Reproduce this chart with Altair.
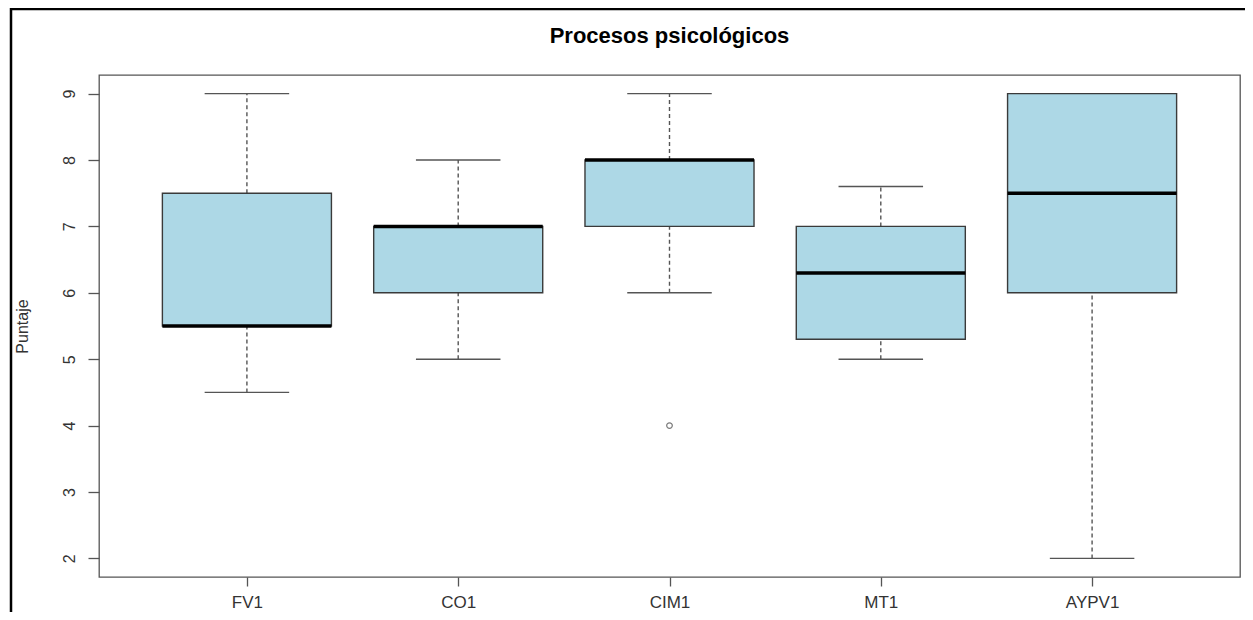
import altair as alt
import pandas as pd

# ---- data ----
categories = ["FV1", "CO1", "CIM1", "MT1", "AYPV1"]
whisker_low = [4.5, 5.0, 6.0, 5.0, 2.0]
q1 = [5.5, 6.0, 7.0, 5.3, 6.0]
median = [5.5, 7.0, 8.0, 6.3, 7.5]
q3 = [7.5, 7.0, 8.0, 7.0, 9.0]
whisker_high = [9.0, 8.0, 9.0, 7.6, 9.0]
outlier_cat = ["CIM1"]
outlier_val = [4.0]
y_ticks = [2, 3, 4, 5, 6, 7, 8, 9]
chart_title = "Procesos psicológicos"
y_title = "Puntaje"

FONT = "Liberation Sans"
AXIS_GRAY = "#555555"
TEXT_GRAY = "#333333"

df = pd.DataFrame({
    "cat": categories,
    "pos": list(range(1, len(categories) + 1)),
    "low": whisker_low,
    "q1": q1,
    "med": median,
    "q3": q3,
    "high": whisker_high,
})
out_df = pd.DataFrame({"cat": outlier_cat, "value": outlier_val})
out_df["pos"] = [categories.index(c) + 1 for c in outlier_cat]

n = len(categories)
xscale = alt.Scale(domain=[0.3, n + 0.7], nice=False, zero=False)
yscale = alt.Scale(domain=[1.72, 9.28], nice=False, zero=False)
label_expr = "[" + ",".join(f"'{c}'" for c in categories) + "][datum.value - 1]"

xaxis = alt.Axis(values=list(range(1, n + 1)), labelExpr=label_expr, title=None,
                 grid=False, domain=False, tickSize=9, tickColor=AXIS_GRAY,
                 tickWidth=1.3, labelFontSize=17, labelPadding=8,
                 labelColor=TEXT_GRAY, labelFont=FONT)
yaxis = alt.Axis(values=y_ticks, title=y_title, grid=False, domain=False,
                 tickSize=11, tickColor=AXIS_GRAY, tickWidth=1.3,
                 labelAngle=-90, labelAlign="center", labelBaseline="bottom",
                 labelPadding=11, labelFontSize=16, labelColor=TEXT_GRAY,
                 labelFont=FONT, titleFont=FONT, titleFontSize=16,
                 titleFontWeight="normal", titleColor=TEXT_GRAY,
                 titleAngle=-90, titleX=-69, titleY=251,
                 titleAlign="center", titleBaseline="bottom")

base = alt.Chart(df).transform_calculate(
    box_l="datum.pos - 0.4", box_r="datum.pos + 0.4",
    cap_l="datum.pos - 0.2", cap_r="datum.pos + 0.2",
)

X = lambda f: alt.X(f, type="quantitative", scale=xscale, axis=xaxis)
Y = lambda f: alt.Y(f, type="quantitative", scale=yscale, axis=yaxis)

whisk_lo = base.mark_rule(color=AXIS_GRAY, strokeWidth=1.4, strokeDash=[4, 3]).encode(
    x=X("pos"), y=Y("low"), y2="q1:Q")
whisk_hi = base.mark_rule(color=AXIS_GRAY, strokeWidth=1.4, strokeDash=[4, 3]).encode(
    x=X("pos"), y=Y("q3"), y2="high:Q")
cap_lo = base.mark_rule(color=AXIS_GRAY, strokeWidth=1.4).encode(
    x=X("cap_l"), x2="cap_r:Q", y=Y("low"))
cap_hi = base.mark_rule(color=AXIS_GRAY, strokeWidth=1.4).encode(
    x=X("cap_l"), x2="cap_r:Q", y=Y("high"))
box = base.mark_rect(fill="#ADD8E6", stroke="#3a3a3a", strokeWidth=1.4).encode(
    x=X("box_l"), x2="box_r:Q", y=Y("q1"), y2="q3:Q")
med = base.mark_rule(color="black", strokeWidth=3.5).encode(
    x=X("box_l"), x2="box_r:Q", y=Y("med"))
outl = alt.Chart(out_df).mark_point(shape="circle", filled=False, size=32,
                                    color="#444444", strokeWidth=1.2).encode(
    x=X("pos"), y=Y("value"))

frame_df = pd.DataFrame({"label": [chart_title]})
frame_top = alt.Chart(frame_df).mark_rule(color="black", strokeWidth=2.5).encode(
    x=alt.value(-89), x2=alt.value(1160), y=alt.value(-66), y2=alt.value(-66))
frame_left = alt.Chart(frame_df).mark_rule(color="black", strokeWidth=2.5).encode(
    x=alt.value(-88), x2=alt.value(-88), y=alt.value(-67), y2=alt.value(560))
title_text = alt.Chart(frame_df).mark_text(
    font=FONT, fontSize=22, fontWeight="bold", color="black",
    align="center", baseline="middle").encode(
    text="label:N", x=alt.value(570.5), y=alt.value(-39))

chart = alt.layer(
    whisk_lo, whisk_hi, cap_lo, cap_hi, box, med, outl,
    frame_top, frame_left, title_text
).properties(
    width=1141,
    height=502,
    autosize=alt.AutoSizeParams(type="none"),
    padding={"left": 91, "top": 67, "right": 5, "bottom": 35},
    background="white",
).configure_view(
    stroke=AXIS_GRAY, strokeWidth=1.3
)

chart.save("out.html", embed_options={"renderer": "svg", "actions": False})
